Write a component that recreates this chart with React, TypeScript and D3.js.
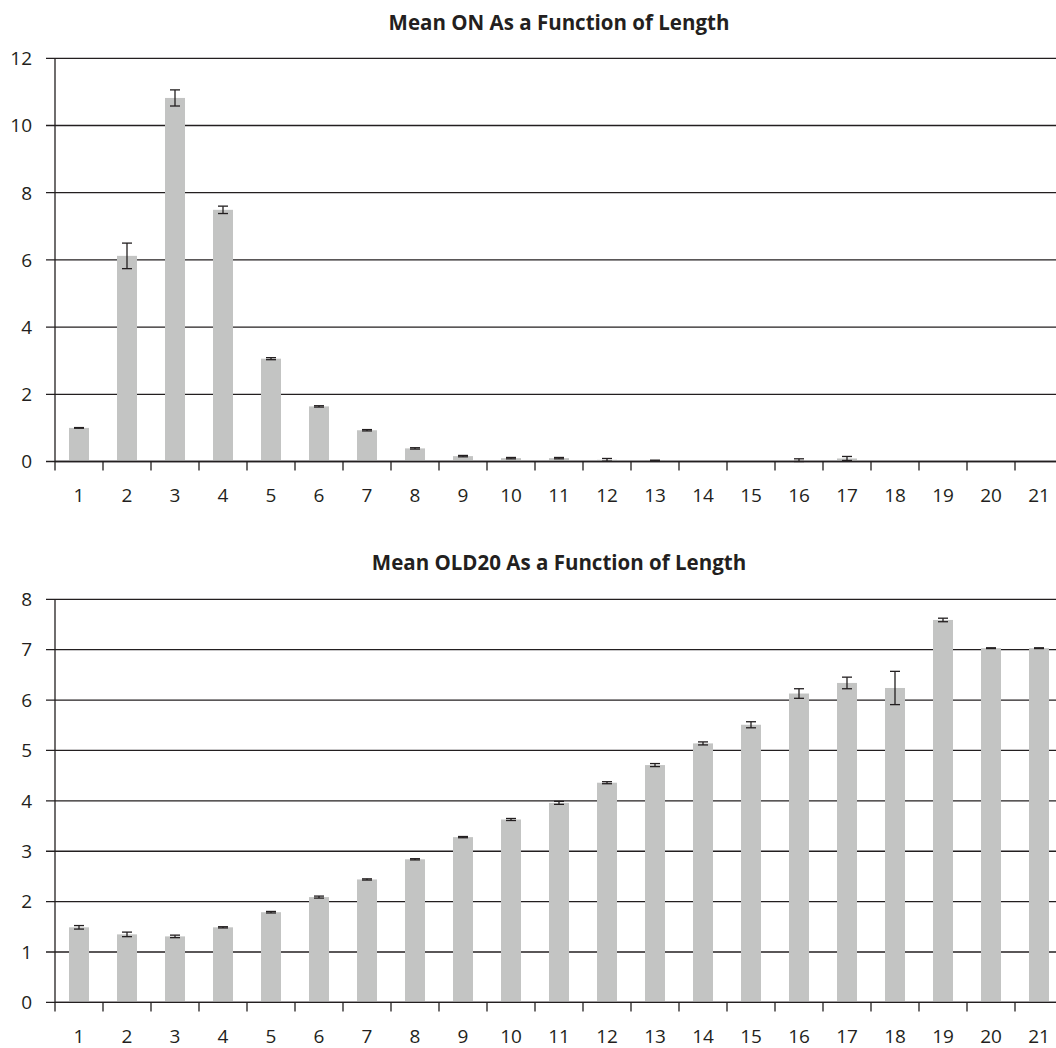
import React from "react";
import * as d3 from "d3";

const lengths = d3.range(1, 22).map(String);

const meanON = [1.0, 6.12, 10.82, 7.49, 3.06, 1.64, 0.93, 0.39, 0.16, 0.1, 0.1, 0.05, 0.03, 0, 0, 0.04, 0.09, 0, 0, 0, 0];
const errON = [0.01, 0.38, 0.24, 0.11, 0.03, 0.02, 0.02, 0.02, 0.02, 0.02, 0.02, 0.04, 0.01, 0, 0, 0.04, 0.06, 0, 0, 0, 0];
const ticksON = [0, 2, 4, 6, 8, 10, 12];

const meanOLD = [1.49, 1.35, 1.31, 1.49, 1.79, 2.09, 2.44, 2.84, 3.28, 3.63, 3.96, 4.36, 4.71, 5.14, 5.51, 6.13, 6.34, 6.24, 7.59, 7.03, 7.03];
const errOLD = [0.035, 0.045, 0.025, 0.012, 0.015, 0.02, 0.012, 0.012, 0.012, 0.02, 0.03, 0.02, 0.03, 0.03, 0.06, 0.095, 0.115, 0.33, 0.035, 0.008, 0.008];
const ticksOLD = [0, 1, 2, 3, 4, 5, 6, 7, 8];

const FONT = "'Open Sans', 'Noto Sans', sans-serif";
const BAR = "#c3c4c3";
const INK = "#231f20";

type PanelProps = {
  title: string;
  values: number[];
  errors: number[];
  ticks: number[];
  yTop: number;
  yZero: number;
  titleY: number;
};

function Panel({ title, values, errors, ticks, yTop, yZero, titleY }: PanelProps) {
  const left = 55;
  const step = 48;
  const x = d3.scaleBand<string>().domain(lengths).range([left, left + step * lengths.length]).padding(0);
  const maxTick = ticks[ticks.length - 1];
  const y = d3.scaleLinear().domain([0, maxTick]).range([yZero, yTop]);
  const right = x.range()[1];
  const barW = 20;
  const capW = 10;
  const center = (c: string) => (x(c) as number) + x.bandwidth() / 2;

  return (
    <g>
      <text x={(left + right) / 2} y={titleY} textAnchor="middle" fontFamily={FONT} fontWeight={700} fontSize={20.5} fill={INK}>
        {title}
      </text>
      {ticks.map((t) => (
        <g key={t}>
          <line x1={left - 9} x2={right} y1={y(t)} y2={y(t)} stroke={INK} strokeWidth={1.3} />
          <text x={32} y={y(t) + 6.8} textAnchor="end" fontFamily={FONT} fontSize={19} fill={INK}>
            {t}
          </text>
        </g>
      ))}
      {lengths.map((c, i) => {
        const v = values[i];
        const e = errors[i];
        const cx = center(c);
        return (
          <g key={c}>
            {v > 0 && (
              <rect x={cx - barW / 2} y={y(v)} width={barW} height={yZero - y(v)} fill={BAR} />
            )}
            {v > 0 && (
              <g stroke={INK} strokeWidth={1.3}>
                <line x1={cx} x2={cx} y1={y(v + e)} y2={y(Math.max(0, v - e))} />
                <line x1={cx - capW / 2} x2={cx + capW / 2} y1={y(v + e)} y2={y(v + e)} />
                <line x1={cx - capW / 2} x2={cx + capW / 2} y1={y(Math.max(0, v - e))} y2={y(Math.max(0, v - e))} />
              </g>
            )}
          </g>
        );
      })}
      <line x1={left} x2={right} y1={yZero} y2={yZero} stroke={INK} strokeWidth={1.3} />
      <line x1={left} x2={left} y1={yTop} y2={yZero + 9} stroke={INK} strokeWidth={1.3} />
      {lengths.map((c, i) => (
        <g key={"t" + c}>
          {i > 0 && (
            <line x1={x(c)} x2={x(c)} y1={yZero} y2={yZero + 9} stroke={INK} strokeWidth={1.3} />
          )}
          <text x={center(c)} y={yZero + 40.5} textAnchor="middle" fontFamily={FONT} fontSize={19} fill={INK}>
            {c}
          </text>
        </g>
      ))}
    </g>
  );
}

export default function App() {
  return (
    <svg
      width={1056}
      height={1048}
      style={{ position: "absolute", left: 0, top: 0, background: "#fff" }}
    >
      <rect width={1056} height={1048} fill="#fff" />
      <Panel
        title="Mean ON As a Function of Length"
        values={meanON}
        errors={errON}
        ticks={ticksON}
        yTop={58.3}
        yZero={461.5}
        titleY={30}
      />
      <Panel
        title="Mean OLD20 As a Function of Length"
        values={meanOLD}
        errors={errOLD}
        ticks={ticksOLD}
        yTop={599.3}
        yZero={1002.4}
        titleY={570}
      />
    </svg>
  );
}
